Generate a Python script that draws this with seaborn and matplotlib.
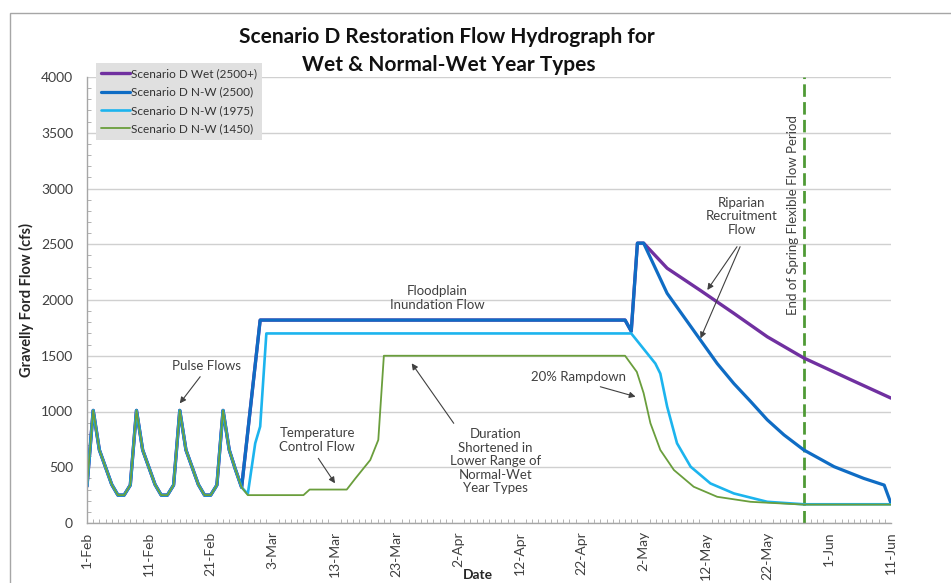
import matplotlib
matplotlib.use("Agg")
import matplotlib.pyplot as plt
import seaborn as sns
from matplotlib.patches import Rectangle
from matplotlib.ticker import MultipleLocator

# ---------------- data (day 0 = 1-Feb) ----------------
pulse_days = [0, 1, 2, 3, 4, 5, 6, 7, 8, 9, 10, 11, 12, 13, 14, 15, 16, 17, 18, 19, 20, 21, 22, 23, 24, 25]
pulse_flow = [330, 1010, 655, 500, 345, 250, 250, 340, 1010, 655, 500, 345, 250, 250, 340,
              1010, 655, 500, 345, 250, 250, 340, 1010, 655, 480, 320]

wet_days = pulse_days + [28, 87, 88, 89, 90, 93.8, 99.2, 104.6, 110, 115.9, 123.5, 130]
wet_flow = pulse_flow + [1820, 1820, 1720, 2510, 2510, 2285, 2085, 1880, 1670, 1480, 1285, 1120]

nw2500_days = pulse_days + [28, 87, 88, 89, 90, 93.8, 96.5, 99.2, 101.9, 104.6, 107.3, 110,
                            112.7, 115.9, 120.8, 125.6, 128.9, 130]
nw2500_flow = pulse_flow + [1820, 1820, 1720, 2510, 2510, 2060, 1850, 1640, 1430, 1250, 1090, 925,
                            790, 655, 505, 400, 340, 175]

nw1975_days = pulse_days + [26, 27.2, 28, 29, 88, 91.9, 92.7, 93.8, 95.4, 97.6, 100.8, 104.6, 110, 115.9, 130]
nw1975_flow = pulse_flow + [260, 715, 865, 1700, 1700, 1430, 1340, 1045, 715, 505, 355, 265, 190, 168, 168]

nw1450_days = pulse_days + [26, 35, 36, 42, 43.4, 45.8, 47.1, 48, 87, 88.9, 90, 91.1, 92.7, 94.9,
                            98.1, 101.9, 107.3, 115.9, 130]
nw1450_flow = pulse_flow + [250, 250, 300, 300, 400, 565, 745, 1500, 1500, 1355, 1165, 895, 655, 475,
                            325, 235, 190, 165, 165]

series_labels = ["Scenario D Wet (2500+)", "Scenario D N-W (2500)",
                 "Scenario D N-W (1975)", "Scenario D N-W (1450)"]
series_colors = ["#7030A0", "#0F6CC4", "#1CB4EE", "#6A9E3C"]

tick_days = [0, 10, 20, 30, 40, 50, 60, 70, 80, 90, 100, 110, 120, 130]
tick_labels = ["1-Feb", "11-Feb", "21-Feb", "3-Mar", "13-Mar", "23-Mar", "2-Apr",
               "12-Apr", "22-Apr", "2-May", "12-May", "22-May", "1-Jun", "11-Jun"]
end_flex_day = 116

# ---------------- style ----------------
sns.set_style("white")
plt.rcParams['font.family'] = ['Lato', 'DejaVu Sans']
txt_color = "#404040"

W, H = 951, 583
fig = plt.figure(figsize=(W / 100, H / 100), dpi=100)
ax = fig.add_axes([87 / W, 1 - 523 / H, (891 - 87) / W, (523 - 77) / H])

# outer chart border
fig.patches.append(Rectangle((10 / W, -0.2), 1.2, 1 - 13 / H + 0.2, transform=fig.transFigure,
                             fill=False, edgecolor="#A6A6A6", linewidth=1.0, clip_on=False))

all_days = [wet_days, nw2500_days, nw1975_days, nw1450_days]
all_flow = [wet_flow, nw2500_flow, nw1975_flow, nw1450_flow]
widths = [2.4, 2.3, 1.9, 1.3]
for d, f, lab, col, lw in zip(all_days, all_flow, series_labels, series_colors, widths):
    sns.lineplot(x=d, y=f, ax=ax, color=col, linewidth=lw, label=lab,
                 sort=False, estimator=None)

ax.axvline(end_flex_day, color="#4F9A35", linewidth=2.0, linestyle=(0, (4.5, 1.9)), zorder=1)

ax.set_xlim(0, 130)
ax.set_ylim(0, 4000)
ax.set_xticks(tick_days)
ax.set_xticklabels(tick_labels, rotation=90, fontsize=10, color=txt_color)
ax.xaxis.set_minor_locator(MultipleLocator(1))
ax.yaxis.set_major_locator(MultipleLocator(500))
ax.yaxis.set_minor_locator(MultipleLocator(100))
ax.tick_params(axis='y', which='major', direction='out', length=6, color="#A6A6A6",
               labelsize=10, labelcolor=txt_color, pad=4)
ax.tick_params(axis='y', which='minor', direction='in', length=3, color="#A6A6A6", left=True)
ax.tick_params(axis='x', which='major', direction='inout', length=8, color="#A6A6A6",
               labelsize=10, labelcolor=txt_color, pad=2)
ax.tick_params(axis='x', which='minor', direction='in', length=3, color="#A6A6A6", bottom=True)

ax.grid(axis='y', color="#D0D0D0", linewidth=1.0)
ax.set_axisbelow(True)
for s in ["top", "right"]:
    ax.spines[s].set_visible(False)
for s in ["left", "bottom"]:
    ax.spines[s].set_color("#A6A6A6")
    ax.spines[s].set_linewidth(1.0)

ax.set_ylabel("Gravelly Ford Flow (cfs)", fontsize=10.5, fontweight='bold', color="#262626", labelpad=5)
fig.text(478 / W, 1 - 575 / H, "Date", ha='center', va='center', fontsize=10,
         fontweight='bold', color="#262626")

fig.text(447 / W, 1 - 37 / H, "Scenario D Restoration Flow Hydrograph for", ha='center', va='center',
         fontsize=15, fontweight='bold', color="#111111")
fig.text(449 / W, 1 - 65 / H, "Wet & Normal-Wet Year Types", ha='center', va='center',
         fontsize=15, fontweight='bold', color="#111111")

# legend
handles, labels = ax.get_legend_handles_labels()
leg = ax.legend(handles, labels, loc='upper left', bbox_to_anchor=(96 / W, 1 - 63 / H),
                bbox_transform=fig.transFigure, fontsize=8.5, frameon=True, fancybox=False,
                handlelength=2.4, handletextpad=0.1, labelspacing=0.62, borderpad=0.45,
                borderaxespad=0)
leg.get_frame().set_facecolor("#E0E0E0")
leg.get_frame().set_edgecolor("none")
leg.get_frame().set_alpha(1)
for t in leg.get_texts():
    t.set_color("#333333")

# annotations
aprops = dict(arrowstyle='-|>', color="#404040", lw=0.8, mutation_scale=9, shrinkA=0, shrinkB=0)
fs = 9.5
ax.text(19.4, 1408, "Pulse Flows", ha='center', va='center', fontsize=fs, color=txt_color)
ax.annotate("", xy=(15.0, 1073), xytext=(18.3, 1312), arrowprops=aprops)

ax.text(37.2, 744, "Temperature\nControl Flow", ha='center', va='center', fontsize=fs,
        color=txt_color, linespacing=1.15)
ax.annotate("", xy=(40.1, 356), xytext=(37.4, 580), arrowprops=aprops)

ax.text(56.6, 2018, "Floodplain\nInundation Flow", ha='center', va='center', fontsize=fs,
        color=txt_color, linespacing=1.15)

ax.text(66.0, 556, "Duration\nShortened in\nLower Range of\nNormal-Wet\nYear Types", ha='center',
        va='center', fontsize=fs, color=txt_color, linespacing=1.15)
ax.annotate("", xy=(52.5, 1432), xytext=(59.3, 894), arrowprops=aprops)

ax.text(79.4, 1307, "20% Rampdown", ha='center', va='center', fontsize=fs, color=txt_color)
ax.annotate("", xy=(88.7, 1133), xytext=(83.0, 1222), arrowprops=aprops)

ax.text(105.9, 2753, "Riparian\nRecruitment\nFlow", ha='center', va='center', fontsize=fs,
        color=txt_color, linespacing=1.15)
ax.annotate("", xy=(100.3, 2090), xytext=(105.1, 2478), arrowprops=aprops)
ax.annotate("", xy=(99.2, 1656), xytext=(105.6, 2478), arrowprops=aprops)

ax.text(114.2, 2762, "End of Spring Flexible Flow Period", rotation=90, ha='center', va='center',
        fontsize=fs, color=txt_color)

fig.savefig("out.png", dpi=100)
